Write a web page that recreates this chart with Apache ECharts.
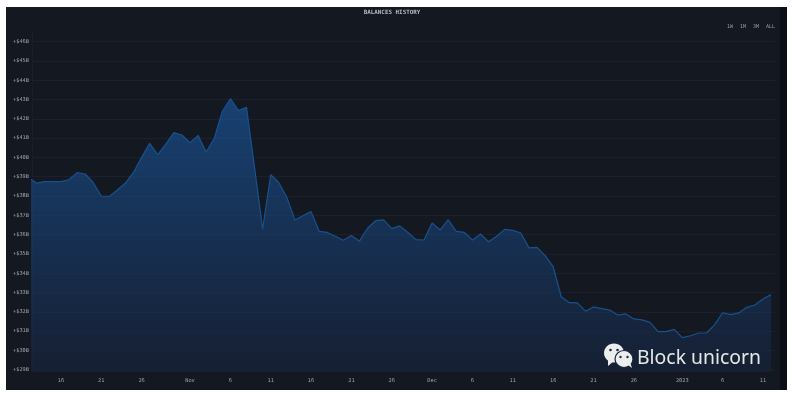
<!DOCTYPE html>
<html><head><meta charset="utf-8">
<style>
html,body{margin:0;padding:0;background:#fff;width:792px;height:395px;overflow:hidden}
#panel{position:absolute;left:6px;top:7px;width:774px;height:383px;background:#141821}
#edge{position:absolute;left:780px;top:7px;width:7px;height:383px;background:#0b0e16}
#chart{position:absolute;left:0;top:0;width:792px;height:395px;filter:blur(0.5px)}
</style>
<script src="https://cdn.jsdelivr.net/npm/echarts@6/dist/echarts.min.js"></script>
</head><body>
<div id="panel"></div><div id="edge"></div><div id="chart"></div>
<script>
const dates = [
'10-12','10-13','10-14','10-15','10-16','10-17','10-18','10-19','10-20','10-21','10-22','10-23','10-24','10-25','10-26','10-27','10-28','10-29','10-30','10-31',
'11-01','11-02','11-03','11-04','11-05','11-06','11-07','11-08','11-09','11-10','11-11','11-12','11-13','11-14','11-15','11-16','11-17','11-18','11-19','11-20','11-21','11-22','11-23','11-24','11-25','11-26','11-27','11-28','11-29','11-30',
'12-01','12-02','12-03','12-04','12-05','12-06','12-07','12-08','12-09','12-10','12-11','12-12','12-13','12-14','12-15','12-16','12-17','12-18','12-19','12-20','12-21','12-22','12-23','12-24','12-25','12-26','12-27','12-28','12-29','12-30','12-31',
'01-01','01-02','01-03','01-04','01-05','01-06','01-07','01-08','01-09','01-10','01-11','01-12'];
const balances = [
38.93,38.67,38.74,38.74,38.74,38.84,39.21,39.14,38.70,38.00,37.98,38.31,38.67,39.22,40.00,40.73,40.14,40.69,41.28,41.16,
40.76,41.14,40.28,40.98,42.38,43.04,42.42,42.59,39.47,36.29,39.10,38.70,37.93,36.76,36.98,37.19,36.17,36.11,35.91,35.71,35.95,35.66,36.33,36.72,36.76,36.31,36.45,36.11,35.74,35.72,
36.60,36.24,36.77,36.17,36.11,35.72,36.03,35.63,35.91,36.27,36.22,36.08,35.31,35.34,34.91,34.34,32.78,32.47,32.46,32.03,32.25,32.16,32.09,31.83,31.89,31.63,31.58,31.45,30.97,30.97,31.09,
30.66,30.76,30.90,30.90,31.32,31.95,31.85,31.94,32.23,32.35,32.66,32.89];
const xTickDates = ['10-16','10-21','10-26','11-01','11-06','11-11','11-16','11-21','11-26','12-01','12-06','12-11','12-16','12-21','12-26','01-01','01-06','01-11'];
const xTickLabels = ['16','21','26','Nov','6','11','16','21','26','Dec','6','11','16','21','26','2023','6','11'];
const yTicks = [29,30,31,32,33,34,35,36,37,38,39,40,41,42,43,44,45,46];
const rangeLabels = ['1W','1M','3M','ALL'];
const titleText = 'BALANCES HISTORY';
const watermark = 'Block unicorn';

const mono = '"DejaVu Sans Mono", monospace';
const xTicks = xTickDates.map(d => dates.indexOf(d));
const chart = echarts.init(document.getElementById('chart'), null, {renderer:'canvas'});
const rangeX = [727, 740, 753, 766];
chart.setOption({
  animation:false,
  backgroundColor:'transparent',
  title:{text:titleText,left:387,top:4,textAlign:'center',textStyle:{fontFamily:mono,fontSize:5.9,fontWeight:'bold',color:'#b4b8c0'}},
  grid:{left:32,right:17,top:30,bottom:23,containLabel:false},
  xAxis:{type:'value',min:0.42,max:92.49,
    splitLine:{show:false},axisLine:{show:false},axisTick:{show:false,customValues:xTicks},
    axisLabel:{customValues:xTicks,margin:6,fontFamily:mono,fontSize:5.3,color:'#a0a6b0',
      formatter:v=>xTickLabels[xTicks.indexOf(v)]}},
  yAxis:{type:'value',min:28.88,max:46.6,
    axisLine:{show:true,lineStyle:{color:'#1a1e2c',width:1}},
    axisTick:{show:false,customValues:yTicks},
    splitLine:{show:true,lineStyle:{color:'#1d202b',width:1}},
    axisLabel:{customValues:yTicks,margin:3,fontFamily:mono,fontSize:5.3,color:'#a0a6b0',
      formatter:v=>'+$'+v+'B'}},
  series:[{type:'line',data:balances.map((v,i)=>[i,v]),showSymbol:false,symbol:'none',smooth:false,
    lineStyle:{color:'#17528f',width:1.2},
    areaStyle:{color:{type:'linear',x:0,y:0,x2:0,y2:1,colorStops:[
      {offset:0,color:'rgba(26,86,155,0.96)'},
      {offset:1,color:'rgba(23,36,60,0.96)'}]}}}],
  graphic:[
    ...rangeLabels.map((t,i)=>({type:'text',left:rangeX[i],top:24,style:{text:t,fontFamily:mono,fontSize:5,fill:'#9a9fa8'}})),
    {type:'ellipse',shape:{cx:614,cy:353,rx:10,ry:9.5},style:{fill:'#eceded'},z:10},
    {type:'polygon',shape:{points:[[608,359],[608,366],[614,361]]},style:{fill:'#eceded'},z:10},
    {type:'circle',shape:{cx:610.5,cy:350,r:1.3},style:{fill:'#1a2a45'},z:11},
    {type:'circle',shape:{cx:617.5,cy:350,r:1.3},style:{fill:'#1a2a45'},z:11},
    {type:'ellipse',shape:{cx:624,cy:359,rx:9,ry:8.5},style:{fill:'#eceded',stroke:'#16233c',lineWidth:1.2},z:12},
    {type:'polygon',shape:{points:[[628,365],[632,368],[630,362]]},style:{fill:'#eceded'},z:12},
    {type:'circle',shape:{cx:620.5,cy:357,r:1.2},style:{fill:'#1a2a45'},z:13},
    {type:'circle',shape:{cx:627.5,cy:357,r:1.2},style:{fill:'#1a2a45'},z:13},
    {type:'text',left:637,top:349,style:{text:watermark,fontFamily:'"Noto Sans"',fontSize:19.4,fill:'#e6e7e8'},z:12}
  ]
});
</script>
</body></html>
